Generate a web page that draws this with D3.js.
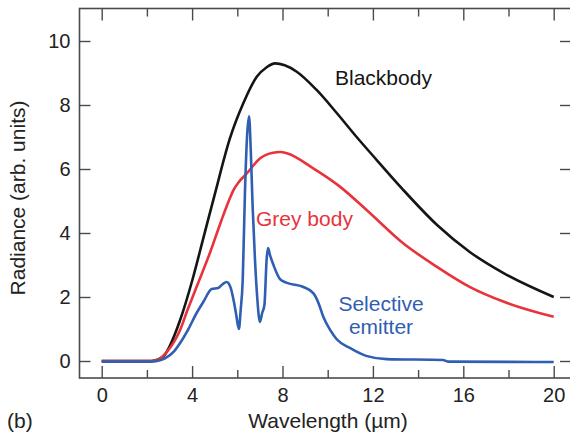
<!DOCTYPE html>
<html>
<head>
<meta charset="utf-8">
<script src="https://cdn.jsdelivr.net/npm/d3@7"></script>
<style>
  body { margin: 0; background: #fff; }
  svg text { font-family: "Liberation Sans", Arial, Helvetica, sans-serif; fill: #222; }
</style>
</head>
<body>
<svg id="chart" width="570" height="439"></svg>
<script>
// values (wavelength in µm, radiance in arb. units)
const blackWl  = [0, 2.2, 2.5, 2.8, 3.0, 3.47, 4.0, 4.5, 5.0, 5.68, 6.27, 6.86, 7.3, 7.67, 8.1, 8.63, 9.51, 10.4, 11.28, 12.17, 13.3, 14.84, 16.3, 17.8, 20];
const blackVal = [0, 0, 0.05, 0.2, 0.45, 1.28, 2.5, 3.85, 5.2, 6.97, 8.06, 8.88, 9.18, 9.3, 9.24, 9.04, 8.47, 7.75, 7.0, 6.28, 5.38, 4.25, 3.4, 2.74, 2.0];

const greyWl  = [0, 2.2, 2.5, 2.9, 3.2, 3.47, 3.8, 4.2, 4.8, 5.3, 5.68, 5.83, 6.1, 6.42, 7.0, 7.58, 7.9, 8.19, 9.36, 10.54, 11.72, 13.34, 14.84, 16.3, 17.8, 20];
const greyVal = [0, 0, 0.04, 0.3, 0.6, 0.97, 1.6, 2.32, 3.4, 4.4, 5.1, 5.34, 5.62, 5.86, 6.33, 6.51, 6.53, 6.49, 6.02, 5.45, 4.72, 3.68, 2.94, 2.31, 1.85, 1.38];

const selWl  = [0, 2.2, 2.45, 2.8, 3.2, 3.47, 3.8, 4.2, 4.5, 4.87, 5.15, 5.35, 5.53, 5.7, 5.85, 5.95, 6.07, 6.15, 6.24, 6.34, 6.43, 6.52, 6.6, 6.68, 6.78, 6.88, 7.0, 7.1, 7.2, 7.3, 7.36, 7.45, 7.6, 7.9, 8.2, 8.9, 9.36, 9.6, 9.8, 10.1, 10.4, 11.0, 11.7, 12.6, 15.1, 15.35, 20];
const selVal = [-0.02, -0.02, 0, 0.08, 0.3, 0.56, 0.95, 1.5, 1.85, 2.25, 2.28, 2.4, 2.47, 2.3, 1.85, 1.45, 1.0, 1.6, 2.53, 5.3, 7.0, 7.65, 6.5, 4.8, 3.2, 2.0, 1.22, 1.5, 1.75, 3.2, 3.53, 3.3, 3.0, 2.55, 2.44, 2.32, 2.12, 1.8, 1.39, 0.98, 0.68, 0.4, 0.16, 0.06, 0.03, -0.02, -0.03];

const xTicks = [0, 4, 8, 12, 16, 20];
const xMinor = [2, 6, 10, 14, 18];
const yTicks = [0, 2, 4, 6, 8, 10];

const svg = d3.select("#chart");

// plot frame (right edge sits just past the picture)
const frame = { left: 79.5, right: 571, top: 8.5, bottom: 378 };

const x = d3.scaleLinear().domain([0, 20]).range([101.7, 553.7]);
const y = d3.scaleLinear().domain([0, 10]).range([361, 41]);

const axisColor = "#4a4a4a";
const tickFont = 20;
const labelFont = 21;

svg.append("rect")
    .attr("x", frame.left).attr("y", frame.top)
    .attr("width", frame.right - frame.left)
    .attr("height", frame.bottom - frame.top)
    .attr("fill", "none")
    .attr("stroke", axisColor)
    .attr("stroke-width", 1.6);

// inward ticks, drawn with d3 axes on every side
function styleAxis(g) {
  g.select(".domain").remove();
  g.selectAll(".tick line").attr("stroke", axisColor).attr("stroke-width", 1.4);
}

function styleText(g) {
  g.selectAll("text")
      .attr("font-size", tickFont)
      .attr("fill", "#222")
      .attr("font-family", "Liberation Sans, Arial, sans-serif");
}

svg.append("g")
    .attr("transform", "translate(0," + frame.bottom + ")")
    .call(d3.axisBottom(x).tickValues(xTicks).tickSize(-12).tickPadding(10).tickFormat(d3.format("d")))
    .call(styleAxis)
    .call(styleText);

svg.append("g")
    .attr("transform", "translate(0," + frame.bottom + ")")
    .call(d3.axisBottom(x).tickValues(xMinor).tickSize(-8).tickFormat(""))
    .call(styleAxis);

svg.append("g")
    .attr("transform", "translate(0," + frame.top + ")")
    .call(d3.axisTop(x).tickValues(xTicks).tickSize(-12).tickFormat(""))
    .call(styleAxis);

svg.append("g")
    .attr("transform", "translate(0," + frame.top + ")")
    .call(d3.axisTop(x).tickValues(xMinor).tickSize(-8).tickFormat(""))
    .call(styleAxis);

svg.append("g")
    .attr("transform", "translate(" + frame.left + ",0)")
    .call(d3.axisLeft(y).tickValues(yTicks).tickSize(-11).tickPadding(9).tickFormat(d3.format("d")))
    .call(styleAxis)
    .call(styleText);

svg.append("g")
    .attr("transform", "translate(" + frame.right + ",0)")
    .call(d3.axisRight(y).tickValues(yTicks).tickSize(-11).tickFormat(""))
    .call(styleAxis);

// curves
const line = d3.line()
    .x(d => x(d[0]))
    .y(d => y(d[1]))
    .curve(d3.curveMonotoneX);

const series = [
  { wl: blackWl, val: blackVal, color: "#151515" },
  { wl: greyWl,  val: greyVal,  color: "#e8323c" },
  { wl: selWl,   val: selVal,   color: "#2f5eb2" }
];

series.forEach(s => {
  svg.append("path")
      .datum(s.wl.map((w, i) => [w, s.val[i]]))
      .attr("fill", "none")
      .attr("stroke", s.color)
      .attr("stroke-width", 2.6)
      .attr("stroke-linejoin", "round")
      .attr("d", line);
});

// curve labels
svg.append("text").attr("x", 335).attr("y", 85)
    .attr("font-size", labelFont).style("fill", "#151515").text("Blackbody");
svg.append("text").attr("x", 256).attr("y", 226)
    .attr("font-size", labelFont).style("fill", "#e8323c").text("Grey body");
svg.append("text").attr("x", 381).attr("y", 311).attr("text-anchor", "middle")
    .attr("font-size", labelFont).style("fill", "#2f5eb2").text("Selective");
svg.append("text").attr("x", 381).attr("y", 334).attr("text-anchor", "middle")
    .attr("font-size", labelFont).style("fill", "#2f5eb2").text("emitter");

// axis titles
svg.append("text")
    .attr("x", 328).attr("y", 428).attr("text-anchor", "middle")
    .attr("font-size", labelFont).text("Wavelength (µm)");

svg.append("text")
    .attr("transform", "translate(25,198) rotate(-90)")
    .attr("text-anchor", "middle")
    .attr("font-size", labelFont).text("Radiance (arb. units)");

svg.append("text")
    .attr("x", 7).attr("y", 428)
    .attr("font-size", labelFont).text("(b)");
</script>
</body>
</html>
